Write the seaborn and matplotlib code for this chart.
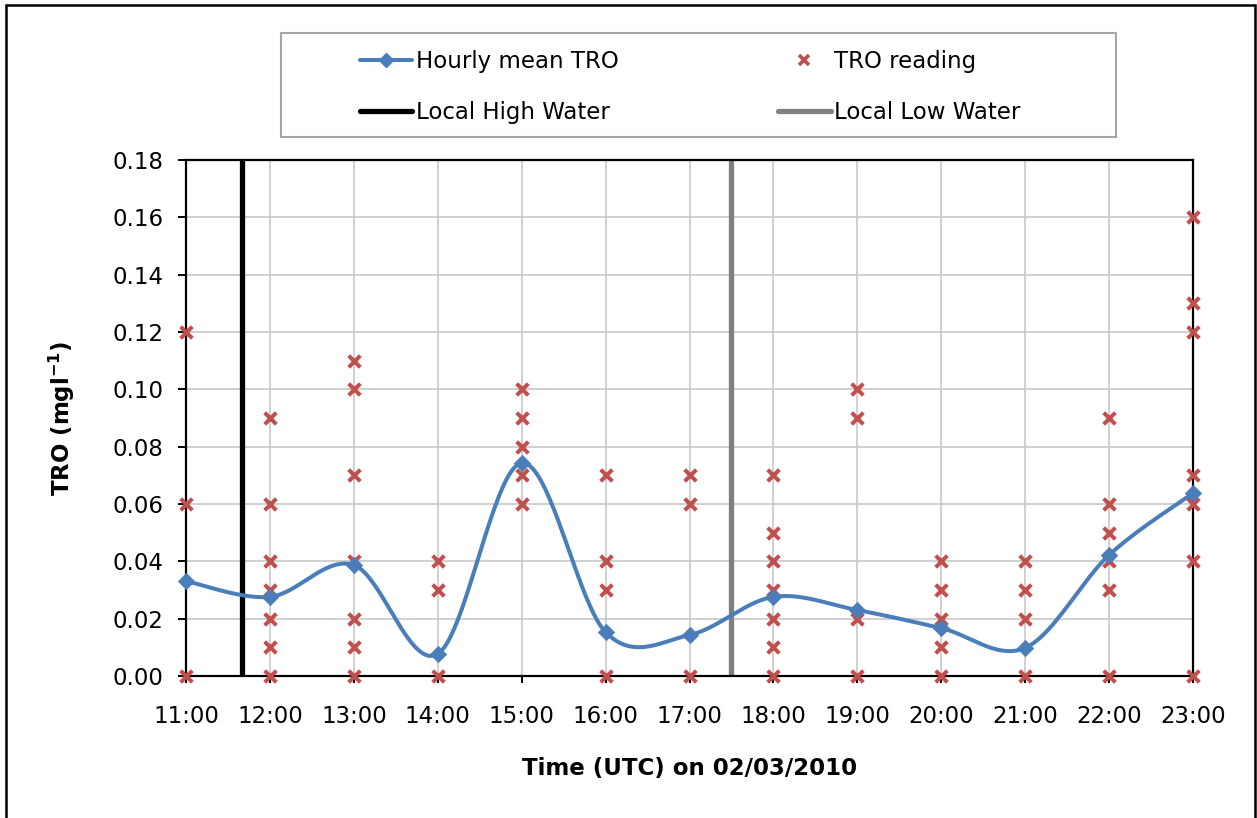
import numpy as np
import pandas as pd
import matplotlib
matplotlib.use("Agg")
import matplotlib.pyplot as plt
import seaborn as sns
from matplotlib.lines import Line2D
from matplotlib.patches import Rectangle

# Hour of day (UTC) on 02/03/2010
hours = [11, 12, 13, 14, 15, 16, 17, 18, 19, 20, 21, 22, 23]
hour_labels = [f"{h}:00" for h in hours]

# Hourly mean total residual oxidant (mg/l)
mean_tro = [0.0331, 0.0276, 0.0387, 0.0077, 0.0743, 0.0153, 0.0143,
            0.0276, 0.0230, 0.0167, 0.0098, 0.0422, 0.0638]

# Individual TRO readings for each hour
tro_readings = [
    [0.12, 0.06, 0.00],
    [0.09, 0.06, 0.04, 0.03, 0.02, 0.01, 0.00],
    [0.11, 0.10, 0.07, 0.04, 0.02, 0.01, 0.00],
    [0.04, 0.03, 0.00],
    [0.10, 0.09, 0.08, 0.07, 0.06],
    [0.07, 0.04, 0.03, 0.00],
    [0.07, 0.06, 0.00],
    [0.07, 0.05, 0.04, 0.03, 0.02, 0.01, 0.00],
    [0.10, 0.09, 0.02, 0.00],
    [0.04, 0.03, 0.02, 0.01, 0.00],
    [0.04, 0.03, 0.02, 0.00],
    [0.09, 0.06, 0.05, 0.04, 0.03, 0.00],
    [0.16, 0.13, 0.12, 0.07, 0.06, 0.04, 0.00],
]

# Tide times (decimal hours)
high_water = 11 + 40 / 60
low_water = 17 + 30 / 60

y_ticks = [0.00, 0.02, 0.04, 0.06, 0.08, 0.10, 0.12, 0.14, 0.16, 0.18]

BLUE = "#4a7ebb"
RED = "#c0504d"


def smooth_curve(x, y, n=40):
    """Bezier smoothing through every point (Catmull-Rom style)."""
    pts = np.column_stack([x, y]).astype(float)
    ext = np.vstack([pts[0], pts, pts[-1]])
    out = []
    t = np.linspace(0, 1, n)[:, None]
    for i in range(len(pts) - 1):
        p0, p1, p2, p3 = ext[i], ext[i + 1], ext[i + 2], ext[i + 3]
        c1 = p1 + (p2 - p0) / 6
        c2 = p2 - (p3 - p1) / 6
        seg = ((1 - t) ** 3) * p1 + 3 * ((1 - t) ** 2) * t * c1 \
            + 3 * (1 - t) * t ** 2 * c2 + t ** 3 * p2
        out.append(seg if i == 0 else seg[1:])
    return np.vstack(out)


readings_df = pd.DataFrame(
    [(h, v) for h, vals in zip(hours, tro_readings) for v in vals],
    columns=["hour", "tro"],
)
means_df = pd.DataFrame({"hour": hours, "tro": mean_tro})
curve = smooth_curve(hours, mean_tro)
curve_df = pd.DataFrame({"hour": curve[:, 0], "tro": curve[:, 1]})

sns.set_style("white")
plt.rcParams["font.family"] = ["DejaVu Sans"]
plt.rcParams["text.color"] = "black"
plt.rcParams["axes.labelcolor"] = "black"
plt.rcParams["xtick.color"] = "black"
plt.rcParams["ytick.color"] = "black"
FS = 16.5

fig = plt.figure(figsize=(12.57, 8.18), dpi=100)
W, H = 1257, 818
ax = fig.add_axes([186 / W, 1 - 676 / H, (1193 - 186) / W, (676 - 160) / H])

ax.set_xlim(11, 23)
ax.set_ylim(0, 0.18)
ax.set_xticks(hours)
ax.set_xticklabels(hour_labels)
ax.set_yticks(y_ticks)
ax.set_yticklabels([f"{v:.2f}" for v in y_ticks])
ax.grid(True, color="#c8c8c8", lw=1.2)
ax.set_axisbelow(True)

# Tide markers
ax.axvline(high_water, color="black", lw=3.8, zorder=2)
ax.axvline(low_water, color="#808080", lw=3.8, zorder=2)

# Individual readings
sns.scatterplot(data=readings_df, x="hour", y="tro", ax=ax, marker="x",
                color=RED, s=70, linewidth=2.9, zorder=4, clip_on=False,
                legend=False)

# Smoothed hourly mean
sns.lineplot(data=curve_df, x="hour", y="tro", ax=ax, sort=False,
             estimator=None, color=BLUE, lw=2.9, zorder=5, clip_on=False,
             legend=False)
sns.scatterplot(data=means_df, x="hour", y="tro", ax=ax, marker="D",
                color=BLUE, s=70, edgecolor=BLUE, linewidth=0.5, zorder=6,
                clip_on=False, legend=False)

for side in ["left", "bottom", "top", "right"]:
    ax.spines[side].set_visible(True)
    ax.spines[side].set_color("black")
    ax.spines[side].set_linewidth(1.6)

ax.tick_params(axis="both", which="major", labelsize=FS, colors="black",
               direction="out", width=1.4)
ax.tick_params(axis="y", length=6, pad=10)
ax.tick_params(axis="x", length=5, pad=16)
ax.xaxis.set_ticks_position("bottom")
ax.yaxis.set_ticks_position("left")

ax.set_xlabel("Time (UTC) on 02/03/2010", fontsize=FS, fontweight="bold",
              labelpad=21)
ax.set_ylabel("TRO (mgl$^{\\mathbf{-1}}$)", fontsize=FS, fontweight="bold",
              labelpad=26)

# Legend box and entries
fig.patches.append(Rectangle((281 / W, 1 - 137 / H), (1116 - 281) / W,
                             (137 - 33) / H, transform=fig.transFigure,
                             fill=False, edgecolor="#a6a6a6", lw=1.5))
handles = [
    Line2D([], [], color=BLUE, lw=2.9, marker="D", markersize=7),
    Line2D([], [], color="black", lw=3.8),
    Line2D([], [], color=RED, lw=0, marker="x", markersize=7.5, mew=2.6),
    Line2D([], [], color="#808080", lw=3.8),
]
labels = ["Hourly mean TRO", "Local High Water", "TRO reading",
          "Local Low Water"]
fig.legend(handles, labels, ncol=2, loc="center",
           bbox_to_anchor=(690 / W, 1 - 87 / H),
           frameon=False, fontsize=FS, handlelength=2.3,
           handletextpad=0.15, columnspacing=6.95, labelspacing=1.2)

# Outer frame
fig.patches.append(Rectangle((6 / W, -0.05), (1255 - 6) / W, 1.05 - 5 / H,
                             transform=fig.transFigure, fill=False,
                             edgecolor="black", lw=1.8))

fig.savefig("out.png", dpi=100)
